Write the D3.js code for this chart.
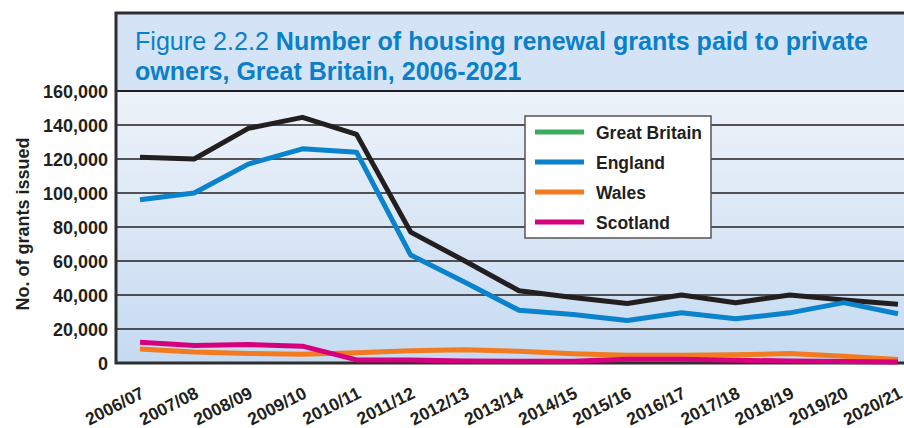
<!DOCTYPE html>
<html>
<head>
<meta charset="utf-8">
<script src="https://cdn.jsdelivr.net/npm/d3@7/dist/d3.min.js"></script>
<style>
  html, body { margin: 0; padding: 0; background: #ffffff; }
  svg { display: block; }
  text { font-family: "Liberation Sans", Arial, sans-serif; }
</style>
</head>
<body>
<svg id="chart" width="904" height="428"></svg>
<script>
// ---- data ----
const categories = ["2006/07","2007/08","2008/09","2009/10","2010/11","2011/12","2012/13","2013/14","2014/15","2015/16","2016/17","2017/18","2018/19","2019/20","2020/21"];
const greatBritain = [121000,120000,138000,144500,134500,77000,60000,42500,38500,35000,40000,35500,40000,37000,34500];
const england = [96000,100000,117000,126000,124000,63500,47500,31000,28500,25000,29500,26000,29500,35500,29000];
const wales = [8300,6400,5600,5200,6000,7200,7800,6900,5400,4600,4600,4800,5600,4000,2000];
const scotland = [12200,10300,10900,9900,1800,1800,1200,1000,1000,2200,2200,1600,1200,900,600];
const yTicks = [0,20000,40000,60000,80000,100000,120000,140000,160000];
const legendNames = ["Great Britain","England","Wales","Scotland"];
const legendColors = ["#3aaa5c","#0a82cc","#f47a20","#d6007f"];

const series = [
  {name:"Great Britain", values: greatBritain, color:"#231f20"},
  {name:"England", values: england, color:"#0a82cc"},
  {name:"Wales", values: wales, color:"#f47a20"},
  {name:"Scotland", values: scotland, color:"#d6007f"}
];

// ---- layout ----
const frameL = 116, frameT = 13, frameR = 910, titleB = 91, plotB = 363;
const svg = d3.select("#chart");

const x = d3.scalePoint().domain(categories).range([140, 898]);
const y = d3.scaleLinear().domain([0,160000]).range([plotB, titleB]);

const defs = svg.append("defs");
const grad = defs.append("linearGradient").attr("id","bg").attr("x1",0).attr("y1",0).attr("x2",0).attr("y2",1);
grad.append("stop").attr("offset","0%").attr("stop-color","#eef3fa");
grad.append("stop").attr("offset","100%").attr("stop-color","#c5daf1");

// title panel
svg.append("rect").attr("x",frameL).attr("y",frameT).attr("width",frameR-frameL).attr("height",titleB-frameT)
  .attr("fill","#d4e4f6");
// plot background
svg.append("rect").attr("x",frameL).attr("y",titleB).attr("width",frameR-frameL).attr("height",plotB-titleB)
  .attr("fill","url(#bg)");

// gridlines
svg.append("g").selectAll("line").data(yTicks.filter(d=>d>0)).join("line")
  .attr("x1",frameL).attr("x2",frameR)
  .attr("y1",d=>y(d)).attr("y2",d=>y(d))
  .attr("stroke","#231f20").attr("stroke-width",d=>d===160000?2:1.3);

// frame border
svg.append("path")
  .attr("d",`M${frameR},${frameT}H${frameL}V${plotB}H${frameR}`)
  .attr("fill","none").attr("stroke","#2e2e2e").attr("stroke-width",3);

// title
const title = svg.append("text").attr("x",135).attr("y",50).attr("font-size",25).attr("fill","#0a80c8");
title.append("tspan").attr("font-weight","300").text("Figure 2.2.2 ");
title.append("tspan").attr("font-weight","bold").text("Number of housing renewal grants paid to private");
const title2 = svg.append("text").attr("x",135).attr("y",80).attr("font-size",25).attr("fill","#0a80c8")
  .attr("font-weight","bold").text("owners, Great Britain, 2006-2021");
function fit(sel, w){ const l = sel.node().getComputedTextLength(); if (Math.abs(l-w)>2) sel.attr("textLength",w).attr("lengthAdjust","spacingAndGlyphs"); }
fit(title, 733); fit(title2, 387);

// y axis labels
const yAxis = d3.axisLeft(y).tickValues(yTicks).tickSize(0).tickPadding(8).tickFormat(d3.format(","));
const yg = svg.append("g").attr("transform",`translate(${frameL},0)`).call(yAxis);
yg.select(".domain").remove();
yg.selectAll("text").attr("font-size",18).attr("font-weight","bold").attr("fill","#231f20")
  .attr("font-family","'Liberation Sans', Arial, sans-serif").attr("dy","0.36em");

// y title
svg.append("text").attr("transform","translate(29,224) rotate(-90)").attr("text-anchor","middle")
  .attr("font-size",18).attr("font-weight","bold").attr("fill","#231f20").text("No. of grants issued");

// x axis labels
const xAxis = d3.axisBottom(x).tickSize(0).tickPadding(0);
const xg = svg.append("g").attr("transform",`translate(0,${plotB})`).call(xAxis);
xg.select(".domain").remove();
xg.selectAll(".tick text")
  .attr("font-size",17.5).attr("font-weight","bold").attr("fill","#231f20")
  .attr("font-family","'Liberation Sans', Arial, sans-serif")
  .attr("text-anchor","end").attr("dy",0).attr("y",0)
  .attr("transform","translate(5,34) rotate(-27)");

// lines
const line = d3.line().x((d,i)=>x(categories[i])).y(d=>y(d));
svg.append("g").selectAll("path").data(series).join("path")
  .attr("d",d=>line(d.values)).attr("fill","none")
  .attr("stroke",d=>d.color).attr("stroke-width",5).attr("stroke-linejoin","round").attr("stroke-linecap","butt");

// legend
const lg = svg.append("g");
lg.append("rect").attr("x",525).attr("y",116).attr("width",186).attr("height",122)
  .attr("fill","#ffffff").attr("stroke","#555555").attr("stroke-width",1.5);
const ly = d3.scalePoint().domain(legendNames).range([132,222]);
const items = lg.selectAll("g.item").data(legendNames).join("g").attr("class","item");
items.append("line").attr("x1",535).attr("x2",584).attr("y1",d=>ly(d)).attr("y2",d=>ly(d))
  .attr("stroke",(d,i)=>legendColors[i]).attr("stroke-width",5);
items.append("text").attr("x",596).attr("y",d=>ly(d)+6.5).attr("font-size",17.5).attr("font-weight","bold")
  .attr("fill","#231f20").text(d=>d);
</script>
</body>
</html>
